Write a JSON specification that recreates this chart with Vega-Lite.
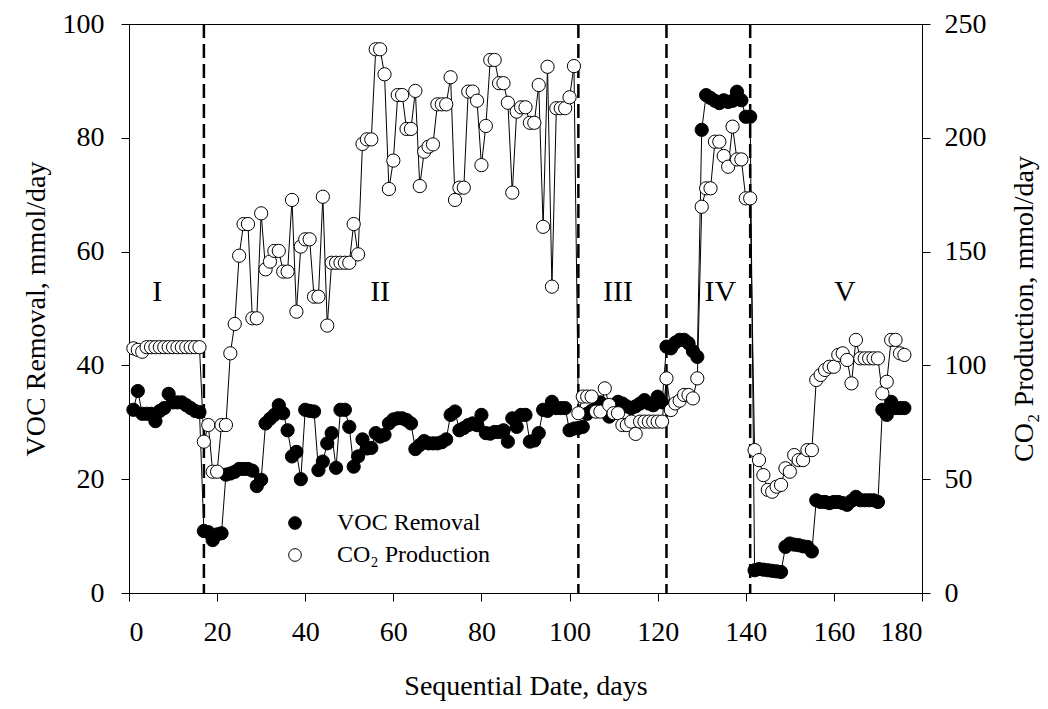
{
  "$schema": "https://vega.github.io/schema/vega-lite/v6.json",
  "width": 793,
  "height": 569,
  "autosize": "none",
  "padding": {"left": 129, "top": 24, "right": 126, "bottom": 116},
  "background": "white",
  "config": {
    "view": {"stroke": "black", "strokeWidth": 1},
    "font": "Liberation Serif",
    "axis": {
      "labelFont": "Liberation Serif", "titleFont": "Liberation Serif",
      "labelFontSize": 28, "titleFontSize": 28, "titleFontWeight": "normal",
      "labelColor": "black", "titleColor": "black",
      "domainColor": "black", "tickColor": "black", "domainWidth": 1, "tickWidth": 1,
      "tickSize": 8, "grid": false
    },
    "legend": {"labelFont": "Liberation Serif"}
  },
  "datasets": {
    "main": [
      {"day":1,"voc":32.2,"co2":107.5},{"day":2,"voc":35.5,"co2":106.8},{"day":3,"voc":31.5,"co2":106},{"day":4,"voc":31.5,"co2":108},
      {"day":5,"voc":31.5,"co2":108},{"day":6,"voc":30.2,"co2":108},{"day":7,"voc":32.0,"co2":108},{"day":8,"voc":32.5,"co2":108},
      {"day":9,"voc":35.0,"co2":108},{"day":10,"voc":33.5,"co2":108},{"day":11,"voc":33.5,"co2":108},{"day":12,"voc":33.5,"co2":108},
      {"day":13,"voc":33.0,"co2":108},{"day":14,"voc":32.5,"co2":108},{"day":15,"voc":32.0,"co2":108},{"day":16,"voc":31.8,"co2":108},
      {"day":17,"voc":10.9,"co2":66.5},{"day":18,"voc":10.7,"co2":73.8},{"day":19,"voc":9.3,"co2":53.3},{"day":20,"voc":10.3,"co2":53.3},
      {"day":21,"voc":10.5,"co2":73.8},{"day":22,"voc":20.8,"co2":73.8},{"day":23,"voc":21.0,"co2":105.3},{"day":24,"voc":21.3,"co2":118.2},
      {"day":25,"voc":21.8,"co2":148.2},{"day":26,"voc":21.8,"co2":162.1},{"day":27,"voc":21.8,"co2":162.1},{"day":28,"voc":21.5,"co2":120.7},
      {"day":29,"voc":18.8,"co2":120.7},{"day":30,"voc":19.9,"co2":166.8},{"day":31,"voc":29.8,"co2":142.2},{"day":32,"voc":30.6,"co2":145.6},
      {"day":33,"voc":31.3,"co2":150.3},{"day":34,"voc":33.0,"co2":150.3},{"day":35,"voc":31.6,"co2":141.2},{"day":36,"voc":28.6,"co2":141.2},
      {"day":37,"voc":24.0,"co2":172.7},{"day":38,"voc":24.8,"co2":123.6},{"day":39,"voc":20.0,"co2":152.2},{"day":40,"voc":32.2,"co2":155.4},
      {"day":41,"voc":32.0,"co2":155.4},{"day":42,"voc":31.9,"co2":130.2},{"day":43,"voc":21.6,"co2":130.2},{"day":44,"voc":23.1,"co2":174.1},
      {"day":45,"voc":26.3,"co2":117.5},{"day":46,"voc":28.1,"co2":145.1},{"day":47,"voc":22.0,"co2":145.1},{"day":48,"voc":32.2,"co2":145.1},
      {"day":49,"voc":32.2,"co2":145.1},{"day":50,"voc":29.2,"co2":145.1},{"day":51,"voc":22.2,"co2":162.1},{"day":52,"voc":24.0,"co2":148.8},
      {"day":53,"voc":27.0,"co2":197.3},{"day":54,"voc":25.4,"co2":199.3},{"day":55,"voc":25.5,"co2":199.3},{"day":56,"voc":28.1,"co2":238.9},
      {"day":57,"voc":27.5,"co2":238.9},{"day":58,"voc":27.8,"co2":227.9},{"day":59,"voc":29.8,"co2":177.5},{"day":60,"voc":30.5,"co2":190},
      {"day":61,"voc":30.7,"co2":218.8},{"day":62,"voc":30.7,"co2":218.8},{"day":63,"voc":30.4,"co2":203.9},{"day":64,"voc":29.8,"co2":203.9},
      {"day":65,"voc":25.3,"co2":220.6},{"day":66,"voc":26.0,"co2":178.8},{"day":67,"voc":26.7,"co2":193.9},{"day":68,"voc":26.3,"co2":196.1},
      {"day":69,"voc":26.3,"co2":197.1},{"day":70,"voc":26.3,"co2":214.7},{"day":71,"voc":26.5,"co2":214.7},{"day":72,"voc":27.0,"co2":214.7},
      {"day":73,"voc":31.3,"co2":226.6},{"day":74,"voc":31.9,"co2":172.7},{"day":75,"voc":28.6,"co2":178.1},{"day":76,"voc":29.0,"co2":178.1},
      {"day":77,"voc":29.5,"co2":220.3},{"day":78,"voc":29.8,"co2":220.3},{"day":79,"voc":29.5,"co2":216.3},{"day":80,"voc":31.3,"co2":188},
      {"day":81,"voc":28.1,"co2":205.2},{"day":82,"voc":28.0,"co2":234.2},{"day":83,"voc":28.3,"co2":234.2},{"day":84,"voc":28.3,"co2":224},
      {"day":85,"voc":28.6,"co2":224},{"day":86,"voc":26.6,"co2":215.4},{"day":87,"voc":30.7,"co2":175.9},{"day":88,"voc":29.2,"co2":211.5},
      {"day":89,"voc":31.3,"co2":213.4},{"day":90,"voc":31.3,"co2":213.4},{"day":91,"voc":26.6,"co2":206.6},{"day":92,"voc":26.8,"co2":206.6},
      {"day":93,"voc":28.1,"co2":223.2},{"day":94,"voc":32.2,"co2":160.9},{"day":95,"voc":32.0,"co2":231.2},{"day":96,"voc":33.6,"co2":134.6},
      {"day":97,"voc":32.5,"co2":213},{"day":98,"voc":32.5,"co2":213},{"day":99,"voc":32.5,"co2":213},{"day":100,"voc":28.6,"co2":217.8},
      {"day":101,"voc":28.9,"co2":231.5},{"day":102,"voc":29.0,"co2":79},{"day":103,"voc":29.2,"co2":86.3},{"day":104,"voc":31.5,"co2":86.3},
      {"day":105,"voc":32.0,"co2":86.3},{"day":106,"voc":32.5,"co2":79.7},{"day":107,"voc":33.5,"co2":79.7},{"day":108,"voc":32.0,"co2":89.9},
      {"day":109,"voc":31.0,"co2":82.6},{"day":110,"voc":32.5,"co2":79},{"day":111,"voc":33.6,"co2":79},{"day":112,"voc":33.3,"co2":73.8},
      {"day":113,"voc":32.8,"co2":73.8},{"day":114,"voc":32.5,"co2":75.3},{"day":115,"voc":32.8,"co2":69.9},{"day":116,"voc":33.3,"co2":75.3},
      {"day":117,"voc":33.9,"co2":75.3},{"day":118,"voc":33.3,"co2":75.3},{"day":119,"voc":33.0,"co2":75.3},{"day":120,"voc":34.5,"co2":75.3},
      {"day":121,"voc":33.5,"co2":75.3},{"day":122,"voc":43.3,"co2":94.3},{"day":123,"voc":43.0,"co2":80.4},{"day":124,"voc":44.0,"co2":83.3},
      {"day":125,"voc":44.5,"co2":84.5},{"day":126,"voc":44.5,"co2":87},{"day":127,"voc":43.9,"co2":87},{"day":128,"voc":42.5,"co2":85.5},
      {"day":129,"voc":41.5,"co2":94.3},{"day":130,"voc":81.4,"co2":169.7},{"day":131,"voc":87.5,"co2":177.8},{"day":132,"voc":87.0,"co2":177.8},
      {"day":133,"voc":86.5,"co2":198.3},{"day":134,"voc":86.1,"co2":198.3},{"day":135,"voc":86.6,"co2":192},{"day":136,"voc":86.3,"co2":187.3},
      {"day":137,"voc":86.5,"co2":204.9},{"day":138,"voc":88.1,"co2":190.5},{"day":139,"voc":86.6,"co2":190.5},{"day":140,"voc":83.7,"co2":173.4},
      {"day":141,"voc":83.7,"co2":173.4},{"day":142,"voc":4.0,"co2":62.8},{"day":143,"voc":4.2,"co2":58.4},{"day":144,"voc":4.1,"co2":51.8},
      {"day":145,"voc":4.0,"co2":45.3},{"day":146,"voc":3.9,"co2":44.5},{"day":147,"voc":3.8,"co2":46.7},{"day":148,"voc":3.7,"co2":47.5},
      {"day":149,"voc":8.1,"co2":54.8},{"day":150,"voc":8.7,"co2":53.3},{"day":151,"voc":8.5,"co2":60.6},{"day":152,"voc":8.4,"co2":58.4},
      {"day":153,"voc":8.2,"co2":58.4},{"day":154,"voc":8.1,"co2":62.8},{"day":155,"voc":7.3,"co2":62.8},{"day":156,"voc":16.3,"co2":93.6},
      {"day":157,"voc":16.0,"co2":95.8},{"day":158,"voc":16.0,"co2":98.0},{"day":159,"voc":15.8,"co2":99.4},{"day":160,"voc":16.0,"co2":99.4},
      {"day":161,"voc":16.0,"co2":104.6},{"day":162,"voc":15.8,"co2":105.3},{"day":163,"voc":15.5,"co2":102.4},{"day":164,"voc":16.2,"co2":92.1},
      {"day":165,"voc":16.9,"co2":111.2},{"day":166,"voc":16.3,"co2":103.1},{"day":167,"voc":16.3,"co2":103.1},{"day":168,"voc":16.3,"co2":103.1},
      {"day":169,"voc":16.3,"co2":103.1},{"day":170,"voc":16.0,"co2":103.1},{"day":171,"voc":32.2,"co2":87.7},{"day":172,"voc":31.3,"co2":92.8},
      {"day":173,"voc":33.6,"co2":111.2},{"day":174,"voc":32.5,"co2":111.2},{"day":175,"voc":32.5,"co2":105.3},{"day":176,"voc":32.5,"co2":104.6}
    ],
    "phases": [
      {"boundary": 17}, {"boundary": 102}, {"boundary": 122}, {"boundary": 141}
    ],
    "labels": [
      {"day": 6.4, "val": 52.9, "label": "I"},
      {"day": 57, "val": 52.9, "label": "II"},
      {"day": 111, "val": 52.9, "label": "III"},
      {"day": 134.2, "val": 52.9, "label": "IV"},
      {"day": 162.5, "val": 52.9, "label": "V"}
    ]
  },
  "layer": [
    {
      "data": {"name": "phases"},
      "mark": {"type": "rule", "color": "black", "strokeWidth": 2.5, "strokeDash": [14, 6]},
      "encoding": {
        "x": {"field": "boundary", "type": "quantitative", "scale": {"domain": [0, 180], "nice": false}}
      }
    },
    {
      "layer": [
        {
          "data": {"name": "main"},
          "mark": {"type": "line", "color": "black", "strokeWidth": 1},
          "encoding": {
            "x": {"field": "day", "type": "quantitative", "scale": {"domain": [0, 180], "nice": false},
                  "axis": {"values": [0,20,40,60,80,100,120,140,160,180], "title": "Sequential Date, days", "labelPadding": 17, "titlePadding": 26}},
            "y": {"field": "voc", "type": "quantitative", "scale": {"domain": [0, 100], "nice": false},
                  "axis": {"orient": "left", "values": [0,20,40,60,80,100], "title": "VOC Removal, mmol/day", "labelPadding": 17, "titlePadding": 12}}
          }
        },
        {
          "data": {"name": "main"},
          "mark": {"type": "point", "shape": "circle", "filled": true, "size": 175, "stroke": "black", "strokeWidth": 1, "opacity": 1},
          "encoding": {
            "x": {"field": "day", "type": "quantitative"},
            "y": {"field": "voc", "type": "quantitative"},
            "fill": {"datum": "VOC Removal", "type": "nominal",
                     "scale": {"domain": ["VOC Removal", "CO₂ Production"], "range": ["black", "white"]},
                     "legend": {"title": null, "orient": "none", "legendX": 154, "legendY": 487,
                                "symbolType": "circle", "symbolSize": 160, "symbolStrokeColor": "black", "symbolStrokeWidth": 1,
                                "symbolOpacity": 1, "labelFontSize": 24, "labelColor": "black", "labelOffset": 30, "rowPadding": 8, "padding": 0}}
          }
        },
        {
          "data": {"name": "labels"},
          "mark": {"type": "text", "fontSize": 30, "font": "Liberation Serif", "color": "black", "align": "center", "baseline": "middle"},
          "encoding": {
            "x": {"field": "day", "type": "quantitative"},
            "y": {"field": "val", "type": "quantitative"},
            "text": {"field": "label"}
          }
        }
      ]
    },
    {
      "layer": [
        {
          "data": {"name": "main"},
          "mark": {"type": "line", "color": "black", "strokeWidth": 1},
          "encoding": {
            "x": {"field": "day", "type": "quantitative"},
            "y": {"field": "co2", "type": "quantitative", "scale": {"domain": [0, 250], "nice": false},
                  "axis": {"orient": "right", "values": [0,50,100,150,200,250], "title": "CO₂ Production, mmol/day", "titleAngle": 270, "labelPadding": 14, "titlePadding": 52}}
          }
        },
        {
          "data": {"name": "main"},
          "mark": {"type": "point", "shape": "circle", "filled": true, "size": 175, "stroke": "black", "strokeWidth": 1, "opacity": 1},
          "encoding": {
            "x": {"field": "day", "type": "quantitative"},
            "y": {"field": "co2", "type": "quantitative"},
            "fill": {"datum": "CO₂ Production", "type": "nominal"}
          }
        }
      ]
    }
  ],
  "resolve": {"scale": {"y": "independent"}}
}
